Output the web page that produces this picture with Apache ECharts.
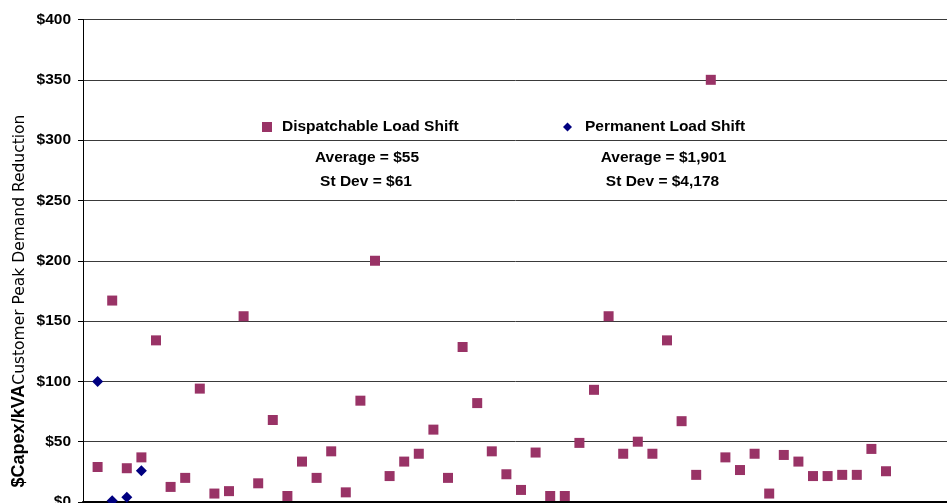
<!DOCTYPE html>
<html>
<head>
<meta charset="utf-8">
<script src="https://cdn.jsdelivr.net/npm/echarts@6/dist/echarts.min.js"></script>
<style>
html,body{margin:0;padding:0;background:#fff;}
#chart{width:947px;height:503px;}
</style>
</head>
<body>
<div id="chart"></div>
<script>
const dispatchableValues = [29, 167, 28, 37, 134, 12.5, 20, 94, 7, 9, 154, 15.5, 68, 5, 33.5, 20, 42, 8, 84, 200,
  21.5, 33.5, 40, 60, 20, 128.5, 82, 42, 23, 10, 41, 5, 5, 49, 93, 154, 40, 50, 40, 134,
  67, 22.5, 350, 37, 26.5, 40, 7, 39, 33.5, 21.5, 21.5, 22.5, 22.5, 44, 25.5];
const permanentValues = [100, 1, 4, 26];
const seriesNames = ['Dispatchable Load Shift', 'Permanent Load Shift'];
const statsDispatchable = ['Average = $55', 'St Dev = $61'];
const statsPermanent = ['Average = $1,901', 'St Dev = $4,178'];
const yTicks = [0, 50, 100, 150, 200, 250, 300, 350, 400];

const FONT = '"Liberation Sans", Arial, sans-serif';
const toPoints = vals => vals.map((v, i) => [i + 1, v]);

const chart = echarts.init(document.getElementById('chart'), null, {renderer: 'canvas'});
chart.setOption({
  animation: false,
  backgroundColor: '#ffffff',
  grid: {left: 83, top: 19.5, width: 876, height: 482.5, containLabel: false, outerBoundsMode: 'none'},
  xAxis: {
    type: 'value', min: 0, max: 60,
    axisLine: {show: true, lineStyle: {color: '#000', width: 2}},
    axisTick: {show: false}, axisLabel: {show: false}, splitLine: {show: false}
  },
  yAxis: {
    type: 'value', min: yTicks[0], max: yTicks[yTicks.length - 1], interval: 50,
    axisLine: {show: true, lineStyle: {color: '#000', width: 1}},
    axisTick: {show: true, inside: false, length: 5, lineStyle: {color: '#000'}},
    axisLabel: {
      margin: 12, color: '#000', fontFamily: FONT, fontWeight: 'bold', fontSize: 15.5,
      formatter: v => '$' + v
    },
    splitLine: {show: true, lineStyle: {color: '#3a3a3a', width: 1}}
  },
  legend: [
    {
      data: [seriesNames[0]], left: 257, top: 114, itemWidth: 10, itemHeight: 10,
      textStyle: {fontFamily: FONT, fontWeight: 'bold', fontSize: 15.5, color: '#000', padding: [0, 0, 0, 5]},
      selectedMode: false
    },
    {
      data: [seriesNames[1]], left: 558, top: 114, itemWidth: 9, itemHeight: 9,
      textStyle: {fontFamily: FONT, fontWeight: 'bold', fontSize: 15.5, color: '#000', padding: [0, 0, 0, 8]},
      selectedMode: false
    }
  ],
  graphic: [
    {type: 'text', x: 367, y: 158, style: {text: statsDispatchable[0], font: 'bold 15.5px ' + FONT, fill: '#000', align: 'center', verticalAlign: 'middle'}},
    {type: 'text', x: 366, y: 182, style: {text: statsDispatchable[1], font: 'bold 15.5px ' + FONT, fill: '#000', align: 'center', verticalAlign: 'middle'}},
    {type: 'text', x: 663.5, y: 158, style: {text: statsPermanent[0], font: 'bold 15.5px ' + FONT, fill: '#000', align: 'center', verticalAlign: 'middle'}},
    {type: 'text', x: 662.5, y: 182, style: {text: statsPermanent[1], font: 'bold 15.5px ' + FONT, fill: '#000', align: 'center', verticalAlign: 'middle'}},
    {
      type: 'text', x: 19, y: 301, rotation: Math.PI / 2,
      style: {
        text: '{a|$Capex/kVA}{b|Customer Peak Demand Reduction}',
        align: 'center', verticalAlign: 'middle', fill: '#000',
        rich: {
          a: {fontSize: 18, fontWeight: 'bold', fontFamily: FONT, fill: '#000'},
          b: {fontSize: 15.5, fontFamily: '"DejaVu Sans", sans-serif', fill: '#000', verticalAlign: 'bottom'}
        }
      }
    }
  ],
  series: [
    {
      name: seriesNames[0], type: 'scatter', symbol: 'rect', symbolSize: 10,
      itemStyle: {color: '#993366', opacity: 1},
      data: toPoints(dispatchableValues), z: 3
    },
    {
      name: seriesNames[1], type: 'scatter', symbol: 'diamond', symbolSize: 11,
      itemStyle: {color: '#000080', opacity: 1},
      data: toPoints(permanentValues), z: 4
    }
  ]
});
</script>
</body>
</html>
